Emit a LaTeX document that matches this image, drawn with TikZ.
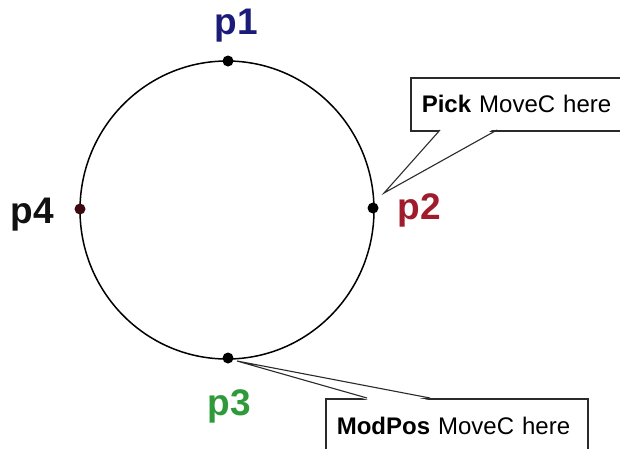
\documentclass[tikz,border=0pt]{standalone}
\usepackage{fontspec}
\setmainfont{Liberation Sans}
\definecolor{pone}{HTML}{1C1C78}
\definecolor{ptwo}{HTML}{A01C2C}
\definecolor{pthree}{HTML}{2F9A3A}
\definecolor{pfour}{HTML}{111111}
\definecolor{dotfour}{HTML}{3D0A0F}
\definecolor{boxline}{HTML}{2A2A2A}
\tikzset{
  pt/.style={circle, fill=black, inner sep=0pt, minimum size=11pt},
  plabel/.style={font=\fontsize{37}{42}\selectfont\bfseries, anchor=base, inner sep=0pt},
  callout/.style={draw=boxline, line width=1.6pt, fill=white, rectangle, anchor=north west,
    font=\fontsize{24}{28}\selectfont, align=left, inner xsep=11pt, inner ysep=0pt},
  tail/.style={draw=boxline, line width=1.1pt},
}
\begin{document}
\begin{tikzpicture}[x=1pt,y=-1pt]
\useasboundingbox (0,0) rectangle (620,448);
\clip (0,0) rectangle (620,448);
\fill[white] (0,0) rectangle (620,448);
% circle
\draw[line width=1.5pt] (227,210) ellipse [x radius=147, y radius=149];
% points
\node[pt] (p1) at (228,61) {};
\node[pt] (p2) at (373,208) {};
\node[pt] (p3) at (228,358) {};
\node[pt, fill=dotfour] (p4) at (80,209) {};
% labels
\node[plabel, text=pone] (l1) at (236,34) {p1};
\node[plabel, text=ptwo] (l2) at (419,219) {p2};
\node[plabel, text=pthree] (l3) at (229,415) {p3};
\node[plabel, text=pfour] (l4) at (32,223) {p4};
% callout 1
\node[callout, text width=208pt, minimum height=53pt] (box1) at (410,77) {\textbf{Pick} MoveC here};
\coordinate (t1a) at (440,130);
\coordinate (t1b) at (497,130);
\coordinate (t1tip) at (384,193);
\fill[white] (441.5,128) -- (t1tip) -- (495.5,128) -- cycle;
\draw[tail] (t1a) -- (t1tip) -- (t1b);
% callout 2
\node[callout, text width=240pt, minimum height=55pt] (box2) at (325,398) {\textbf{ModPos} MoveC here};
\coordinate (t2a) at (367,398);
\coordinate (t2b) at (430,398);
\coordinate (t2tip) at (237,361);
\fill[white] (368.5,400) -- (t2tip) -- (428.5,400) -- cycle;
\draw[tail] (t2a) -- (t2tip) -- (t2b);
\end{tikzpicture}
\end{document}
